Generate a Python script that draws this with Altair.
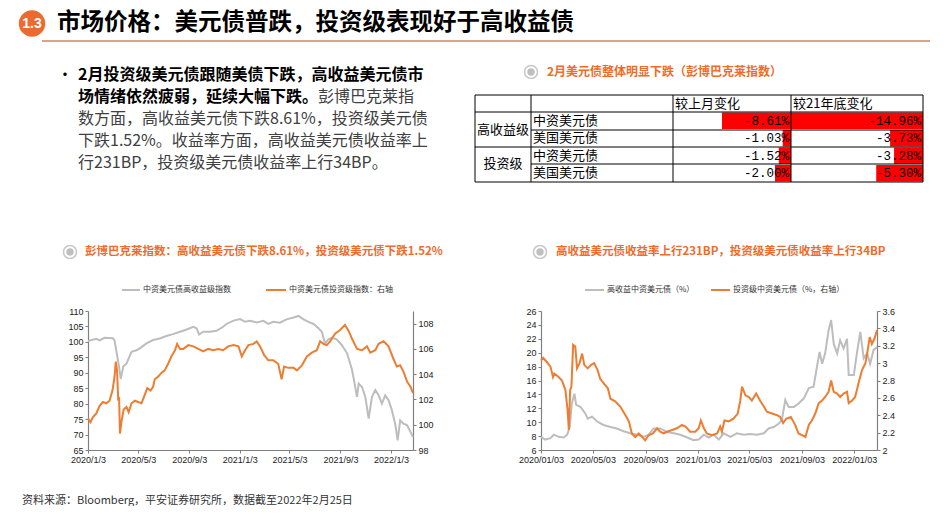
import altair as alt
import pandas as pd

# ---------------- data ----------------
# Left chart: Bloomberg Barclays China USD bond indices
hy_idx_dates = ["2020-01-03","2020-01-23","2020-01-31","2020-02-12","2020-03-03","2020-03-07","2020-03-16","2020-03-22",
    "2020-03-28","2020-04-05","2020-04-17","2020-04-29","2020-05-07","2020-05-23","2020-06-08","2020-06-24","2020-07-10",
    "2020-07-26","2020-08-12","2020-08-28","2020-09-13","2020-09-21","2020-09-27","2020-10-07","2020-10-23","2020-11-08",
    "2020-11-24","2020-12-02","2020-12-19","2021-01-04","2021-01-16","2021-01-28","2021-02-13","2021-03-01","2021-03-13",
    "2021-03-25","2021-04-10","2021-04-26","2021-05-13","2021-05-25","2021-06-06","2021-06-18","2021-06-30","2021-07-12",
    "2021-07-20","2021-07-28","2021-08-05","2021-08-13","2021-08-25","2021-09-06","2021-09-19","2021-10-01","2021-10-13",
    "2021-10-17","2021-10-25","2021-11-02","2021-11-10","2021-11-18","2021-11-26","2021-12-04","2021-12-12","2021-12-20",
    "2021-12-28","2022-01-05","2022-01-13","2022-01-19","2022-01-25","2022-02-02","2022-02-11","2022-02-19","2022-02-25"]
hy_idx_vals = [100.3,101.0,100.5,101.3,101.2,100.5,93.5,88.0,92.0,93.0,96.8,97.3,97.9,99.5,100.6,101.1,101.9,102.5,103.3,
    104.0,104.9,104.4,102.4,103.3,103.3,103.6,104.9,105.8,106.9,107.4,106.5,106.8,106.3,106.8,105.8,106.5,106.2,107.3,107.9,
    108.4,107.3,106.5,105.8,104.4,103.3,99.5,100.8,101.3,100.8,99.0,96.3,90.9,82.2,86.5,85.4,82.2,75.2,82.2,84.4,82.7,80.0,
    82.7,81.1,77.9,73.5,68.1,74.6,73.5,73.0,70.8,69.2]

ig_idx_dates = ["2020-01-03","2020-01-09","2020-01-15","2020-01-23","2020-01-31","2020-02-08","2020-02-16","2020-02-24",
    "2020-03-02","2020-03-07","2020-03-10","2020-03-13","2020-03-16","2020-03-18","2020-03-20","2020-03-24","2020-03-29",
    "2020-04-05","2020-04-10","2020-04-17","2020-04-25","2020-05-03","2020-05-11","2020-05-17","2020-05-25","2020-06-02",
    "2020-06-08","2020-06-12","2020-06-20","2020-06-28","2020-07-06","2020-07-14","2020-07-22","2020-07-31","2020-08-05",
    "2020-08-12","2020-08-20","2020-09-01","2020-09-13","2020-09-25","2020-10-07","2020-10-19","2020-10-31","2020-11-12",
    "2020-11-24","2020-12-06","2020-12-19","2020-12-31","2021-01-08","2021-01-16","2021-01-24","2021-02-05","2021-02-13",
    "2021-02-21","2021-03-03","2021-03-13","2021-03-25","2021-04-06","2021-04-14","2021-04-20","2021-04-30","2021-05-13",
    "2021-05-21","2021-06-02","2021-06-14","2021-06-26","2021-07-08","2021-07-16","2021-07-24","2021-08-01","2021-08-09",
    "2021-08-21","2021-09-02","2021-09-14","2021-09-23","2021-10-01","2021-10-13","2021-10-25","2021-11-06","2021-11-14",
    "2021-11-26","2021-12-04","2021-12-16","2021-12-28","2022-01-09","2022-01-17","2022-01-25","2022-02-02","2022-02-11",
    "2022-02-19","2022-02-25"]
ig_idx_vals = [100.5,100.2,100.6,100.9,101.5,101.8,101.7,101.9,102.7,103.8,105.0,104.3,101.9,102.2,99.3,100.3,101.2,101.4,
    101.0,101.7,101.9,101.8,101.7,102.2,102.9,102.7,103.0,103.6,103.8,104.1,104.3,104.8,105.4,105.9,106.4,106.0,106.0,106.3,
    106.2,106.0,105.8,106.0,105.9,106.0,105.9,106.2,106.3,106.2,105.4,105.9,106.3,106.4,106.6,106.2,105.5,105.1,105.1,104.8,
    103.6,104.6,104.5,104.5,104.3,104.7,105.4,105.7,105.9,106.6,106.4,106.3,106.6,107.2,107.5,107.9,107.4,106.8,106.0,105.9,
    106.2,105.7,105.9,106.4,106.6,106.2,105.2,104.6,104.7,104.2,103.4,103.0,102.5]

# Right chart: China USD bond yields (%)
hy_yld_dates = ["2020-01-03","2020-01-13","2020-01-25","2020-02-02","2020-02-13","2020-02-25","2020-03-04","2020-03-10",
    "2020-03-15","2020-03-21","2020-03-25","2020-04-04","2020-04-15","2020-04-21","2020-05-01","2020-05-13","2020-05-28",
    "2020-06-13","2020-06-28","2020-07-14","2020-07-29","2020-08-14","2020-08-30","2020-09-10","2020-09-22","2020-10-07",
    "2020-10-23","2020-11-08","2020-11-23","2020-12-09","2020-12-24","2021-01-05","2021-01-17","2021-01-28","2021-02-09",
    "2021-02-21","2021-03-04","2021-03-20","2021-04-04","2021-04-20","2021-05-05","2021-05-21","2021-06-06","2021-06-17",
    "2021-06-29","2021-07-11","2021-07-18","2021-07-26","2021-08-03","2021-08-15","2021-08-26","2021-09-07","2021-09-19",
    "2021-09-30","2021-10-08","2021-10-14","2021-10-20","2021-10-27","2021-11-04","2021-11-10","2021-11-16","2021-11-24",
    "2021-12-01","2021-12-09","2021-12-17","2021-12-21","2022-01-02","2022-01-09","2022-01-17","2022-01-25","2022-02-02",
    "2022-02-09","2022-02-17","2022-02-25"]
hy_yld_vals = [7.9,7.5,7.7,8.2,7.9,7.8,8.2,9.3,12.7,14.1,12.5,12.2,11.3,10.5,10.8,10.1,9.6,9.3,9.1,8.7,8.4,8.2,7.9,8.2,
    9.1,9.1,8.6,8.4,8.2,7.8,7.4,7.5,8.2,7.8,8.2,7.5,8.4,7.9,8.4,8.2,8.3,8.2,8.4,9.1,9.3,9.8,10.3,13.2,12.2,12.2,12.7,13.4,
    14.9,15.1,18.0,20.1,18.4,19.9,23.2,24.7,21.3,19.9,21.8,20.6,22.0,16.8,16.8,19.9,23.0,19.2,19.9,18.4,20.4,20.8]

ig_yld_dates = ["2020-01-03","2020-01-08","2020-01-17","2020-01-25","2020-01-31","2020-02-03","2020-02-13","2020-02-21",
    "2020-02-29","2020-03-05","2020-03-08","2020-03-11","2020-03-14","2020-03-18","2020-03-23","2020-03-27","2020-04-02",
    "2020-04-08","2020-04-13","2020-04-21","2020-04-29","2020-05-06","2020-05-14","2020-05-20","2020-05-28","2020-06-07",
    "2020-06-13","2020-06-24","2020-07-06","2020-07-18","2020-07-26","2020-08-02","2020-08-10","2020-08-18","2020-08-26",
    "2020-09-02","2020-09-10","2020-09-20","2020-09-30","2020-10-07","2020-10-15","2020-10-23","2020-11-04","2020-11-15",
    "2020-11-27","2020-12-05","2020-12-16","2020-12-28","2021-01-05","2021-01-10","2021-01-17","2021-01-24","2021-02-05",
    "2021-02-17","2021-02-24","2021-02-28","2021-03-06","2021-03-16","2021-03-27","2021-04-06","2021-04-12","2021-04-16",
    "2021-04-24","2021-05-02","2021-05-09","2021-05-19","2021-05-29","2021-06-06","2021-06-13","2021-06-25","2021-07-07",
    "2021-07-14","2021-07-21","2021-07-28","2021-08-08","2021-08-18","2021-08-26","2021-09-03","2021-09-11","2021-09-19",
    "2021-09-26","2021-10-04","2021-10-12","2021-10-20","2021-10-27","2021-11-04","2021-11-10","2021-11-16","2021-11-24",
    "2021-12-01","2021-12-09","2021-12-17","2021-12-21","2021-12-29","2022-01-05","2022-01-13","2022-01-21","2022-01-29",
    "2022-02-02","2022-02-08","2022-02-13","2022-02-19","2022-02-25"]
ig_yld_vals = [3.03,3.06,3.01,2.96,2.84,2.88,2.84,2.80,2.69,2.46,2.23,2.69,2.73,3.21,3.19,2.94,3.00,3.11,2.98,2.94,2.98,
    3.00,2.92,2.82,2.77,2.71,2.59,2.56,2.50,2.40,2.33,2.19,2.15,2.19,2.15,2.11,2.17,2.19,2.25,2.21,2.19,2.21,2.23,2.25,2.29,
    2.27,2.21,2.21,2.25,2.34,2.25,2.19,2.17,2.19,2.27,2.21,2.34,2.33,2.36,2.42,2.57,2.73,2.63,2.61,2.57,2.65,2.56,2.50,2.44,
    2.42,2.40,2.38,2.31,2.36,2.38,2.29,2.19,2.17,2.15,2.29,2.34,2.42,2.54,2.57,2.61,2.67,2.80,2.67,2.65,2.61,2.65,2.67,2.54,
    2.57,2.61,2.77,2.92,3.00,3.11,3.30,3.22,3.28,3.38]

# Table
tbl_group = ["高收益级", "高收益级", "投资级", "投资级"]
tbl_name = ["中资美元债", "美国美元债", "中资美元债", "美国美元债"]
tbl_mom = [-8.61, -1.03, -1.52, -2.00]
tbl_ytd = [-14.96, -3.73, -3.28, -5.30]

x_label_dates = [(2020, 1, 3), (2020, 5, 3), (2020, 9, 3), (2021, 1, 3), (2021, 5, 3), (2021, 9, 3), (2022, 1, 3)]

# ---------------- styling ----------------
CJK = "Noto Sans CJK SC"
ORANGE = "#ef6b2a"
LINE_OR = "#ed7d31"
LINE_GR = "#bdbdbd"
W = 929
TOPH = 303

one = pd.DataFrame({"a": [0]})


def txt(s, x, y, size, color="#000000", weight="normal", align="left", font=CJK):
    return alt.Chart(one).mark_text(text=s, fontSize=size, color=color, fontWeight=weight, align=align,
                                    baseline="middle", font=font).encode(x=alt.value(x), y=alt.value(y))


def hline(x1, x2, y, color="#000000", w=1.0):
    return alt.Chart(one).mark_rule(color=color, strokeWidth=w).encode(
        x=alt.value(x1), x2=alt.value(x2), y=alt.value(y))


def vline(x, y1, y2, color="#000000", w=1.0):
    return alt.Chart(one).mark_rule(color=color, strokeWidth=w).encode(
        x=alt.value(x), y=alt.value(y1), y2=alt.value(y2))


def icon(x, y):
    return [
        alt.Chart(one).mark_point(shape="circle", size=170, filled=False, color="#c9c9c9", strokeWidth=1.6,
                                  opacity=1).encode(x=alt.value(x), y=alt.value(y)),
        alt.Chart(one).mark_circle(size=55, color="#bfbfbf", opacity=1).encode(x=alt.value(x), y=alt.value(y)),
    ]


layers = []
# header
layers.append(alt.Chart(one).mark_circle(size=700, color="#ec6a2f", opacity=1).encode(x=alt.value(24), y=alt.value(15.5)))
layers.append(txt("1.3", 24, 15.5, 14, color="#ffffff", weight="bold", align="center", font="Liberation Sans"))
layers.append(txt("市场价格：美元债普跌，投资级表现好于高收益债", 49, 14.5, 23.5, weight="bold"))
layers.append(hline(34, 922, 33, color="#d9a487", w=2))

# bullet text
FS = 16
layers.append(txt("•", 57, 67, 16, align="center"))
layers.append(txt("2月投资级美元债跟随美债下跌，高收益美元债市", 70, 67, FS, weight="bold"))
layers.append(txt("场情绪依然疲弱，延续大幅下跌。", 70, 89, FS, weight="bold"))
layers.append(txt("彭博巴克莱指", 70 + 15 * FS, 89, FS, color="#404040"))
layers.append(txt("数方面，高收益美元债下跌8.61%，投资级美元债", 70, 111, FS, color="#404040"))
layers.append(txt("下跌1.52%。收益率方面，高收益美元债收益率上", 70, 133, FS, color="#404040"))
layers.append(txt("行231BP，投资级美元债收益率上行34BP。", 70, 155, FS, color="#404040"))

# table title
layers += icon(523, 64)
layers.append(txt("2月美元债整体明显下跌（彭博巴克莱指数）", 539, 64, 12, color=ORANGE, weight="bold"))

# table
tbl = pd.DataFrame({
    "row": [g + n for g, n in zip(tbl_group, tbl_name)],
    "name": tbl_name,
    "mom": tbl_mom,
    "ytd": tbl_ytd,
})
tbl["mom_lbl"] = [f"{v:.2f}%" for v in tbl_mom]
tbl["ytd_lbl"] = [f"{v:.2f}%" for v in tbl_ytd]
rows = list(tbl["row"])
yband = alt.Scale(type="band", domain=rows, range=[104, 174], paddingInner=0.06, paddingOuter=0.03)

layers.append(alt.Chart(tbl).mark_bar(color="#ff0000").encode(
    x=alt.X("mom:Q", scale=alt.Scale(domain=[-8.61, 0], range=[714, 783], nice=False, zero=False), axis=None),
    x2=alt.datum(0),
    y=alt.Y("row:N", scale=yband, axis=None)))
layers.append(alt.Chart(tbl).mark_bar(color="#ff0000").encode(
    x=alt.X("ytd:Q", scale=alt.Scale(domain=[-14.96, 0], range=[783, 915], nice=False, zero=False), axis=None),
    x2=alt.datum(0),
    y=alt.Y("row:N", scale=yband, axis=None)))
layers.append(alt.Chart(tbl).mark_text(align="left", baseline="middle", font=CJK, fontSize=13, color="#000000").encode(
    x=alt.value(525), y=alt.Y("row:N", scale=yband, axis=None, bandPosition=0.5), text="name:N"))
layers.append(alt.Chart(tbl).mark_text(align="right", baseline="middle", font="Liberation Mono", fontSize=12.5,
                                       color="#000000").encode(
    x=alt.value(781), y=alt.Y("row:N", scale=yband, axis=None, bandPosition=0.5), text="mom_lbl:N"))
layers.append(alt.Chart(tbl).mark_text(align="right", baseline="middle", font="Liberation Mono", fontSize=12.5,
                                       color="#000000").encode(
    x=alt.value(913), y=alt.Y("row:N", scale=yband, axis=None, bandPosition=0.5), text="ytd_lbl:N"))

layers.append(txt("较上月变化", 667, 95.5, 13))
layers.append(txt("较21年底变化", 785, 95.5, 13))
layers.append(txt("高收益级", 495, 122, 13, align="center"))
layers.append(txt("投资级", 495, 156, 13, align="center"))
for yy in [87, 104, 139, 174]:
    layers.append(hline(467, 915, yy))
for yy in [122, 156]:
    layers.append(hline(523, 915, yy))
for xx in [467, 523, 665, 783, 915]:
    layers.append(vline(xx, 87, 174))

# chart titles and legends
layers += icon(62, 244)
layers.append(txt("彭博巴克莱指数：高收益美元债下跌8.61%，投资级美元债下跌1.52%", 77, 244, 11.5, color=ORANGE, weight="bold"))
layers += icon(532, 244)
layers.append(txt("高收益美元债收益率上行231BP，投资级美元债收益率上行34BP", 548, 244, 11.5, color=ORANGE, weight="bold"))

layers.append(hline(114, 132, 282, color=LINE_GR, w=2))
layers.append(txt("中资美元债高收益级指数", 135, 282, 8, color="#333333"))
layers.append(hline(258, 278, 282, color=LINE_OR, w=2))
layers.append(txt("中资美元债投资级指数：右轴", 281, 282, 8, color="#333333"))
layers.append(hline(577, 596, 282, color=LINE_GR, w=2))
layers.append(txt("高收益中资美元债（%）", 599, 282, 8, color="#333333"))
layers.append(hline(703, 722, 282, color=LINE_OR, w=2))
layers.append(txt("投资级中资美元债（%，右轴）", 725, 282, 8, color="#333333"))

top = alt.layer(*layers).resolve_scale(x="independent").properties(width=W, height=TOPH)

# ---------------- line charts ----------------
ax = dict(labelFont="Liberation Sans", labelFontSize=9, labelColor="#222222", domainColor="#808080",
          domainWidth=1.2, tickColor="#808080", tickSize=3, grid=False, title=None)
xdomain = [alt.DateTime(year=2020, month=1, date=3), alt.DateTime(year=2022, month=2, date=25)]
xvals = [alt.DateTime(year=y, month=m, date=d) for (y, m, d) in x_label_dates]


def xenc(fmt):
    return alt.X("date:T", scale=alt.Scale(domain=xdomain),
                 axis=alt.Axis(values=xvals, format=fmt, labelFlush=False, labelOverlap=False, **ax))


def series(dates, vals):
    return pd.DataFrame({"date": pd.to_datetime(dates), "v": vals})


l_gray = alt.Chart(series(hy_idx_dates, hy_idx_vals)).mark_line(color=LINE_GR, strokeWidth=2).encode(
    x=xenc("%Y/%-m/%-d"),
    y=alt.Y("v:Q", scale=alt.Scale(domain=[65, 110]),
            axis=alt.Axis(orient="left", values=list(range(65, 111, 5)), **ax)))
l_or = alt.Chart(series(ig_idx_dates, ig_idx_vals)).mark_line(color=LINE_OR, strokeWidth=2).encode(
    x=xenc("%Y/%-m/%-d"),
    y=alt.Y("v:Q", scale=alt.Scale(domain=[98, 109]),
            axis=alt.Axis(orient="right", values=list(range(98, 109, 2)), **ax)))
left = alt.layer(l_gray, l_or).resolve_scale(y="independent").properties(width=325, height=139)

r_gray = alt.Chart(series(hy_yld_dates, hy_yld_vals)).mark_line(color=LINE_GR, strokeWidth=2).encode(
    x=xenc("%Y/%m/%d"),
    y=alt.Y("v:Q", scale=alt.Scale(domain=[6, 26]),
            axis=alt.Axis(orient="left", values=list(range(6, 27, 2)), **ax)))
r_or = alt.Chart(series(ig_yld_dates, ig_yld_vals)).mark_line(color=LINE_OR, strokeWidth=2).encode(
    x=xenc("%Y/%m/%d"),
    y=alt.Y("v:Q", scale=alt.Scale(domain=[2, 3.6]),
            axis=alt.Axis(orient="right", values=[2, 2.2, 2.4, 2.6, 2.8, 3, 3.2, 3.4, 3.6], format="~g", **ax)))
right = alt.layer(r_gray, r_or).resolve_scale(y="independent").properties(width=336, height=139)

# left spacer also carries the source note below the charts
spacer_left = alt.Chart(one).mark_text(
    text="资料来源：Bloomberg，平安证券研究所，数据截至2022年2月25日", font=CJK, fontSize=11, color="#333333",
    align="left", baseline="middle").encode(x=alt.value(14), y=alt.value(190)).properties(width=80, height=139)
spacer_mid = alt.Chart(one).mark_text(text=" ").encode(x=alt.value(0), y=alt.value(0)).properties(width=128, height=139)

row2 = alt.hconcat(spacer_left, left, spacer_mid, right, spacing=0, bounds="flush")

chart = alt.vconcat(top, row2, spacing=0, bounds="flush").properties(
    padding={"left": 0, "top": 0, "right": 0, "bottom": 0}
).configure_view(stroke=None)

chart.save("out.html", embed_options={"renderer": "svg", "actions": False})
